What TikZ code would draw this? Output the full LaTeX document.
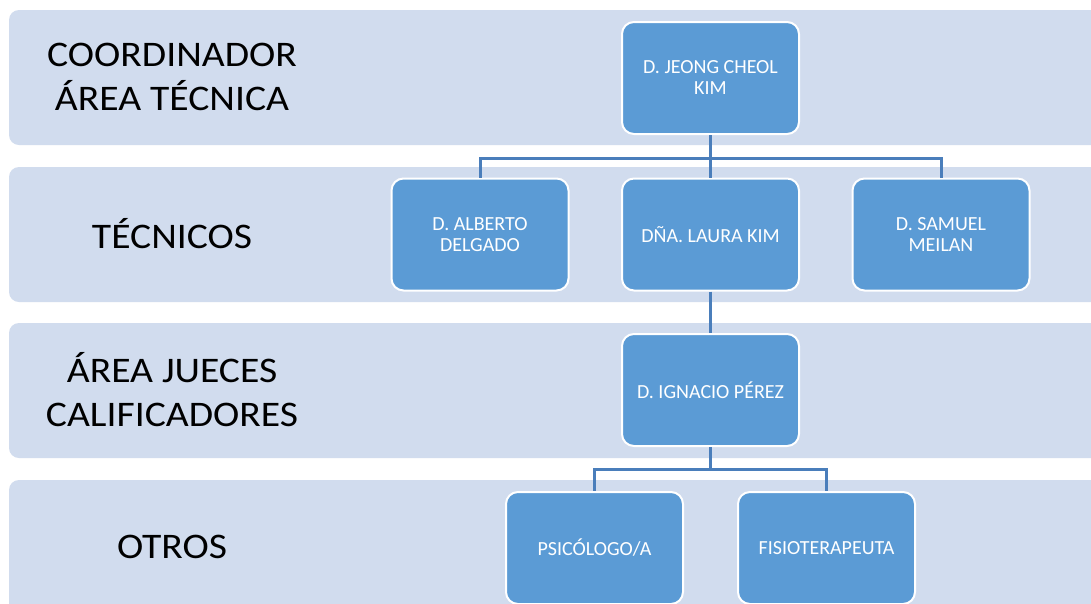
\documentclass[tikz,border=0pt]{standalone}
\usepackage{fontspec}
\setmainfont{Carlito}
\newfontfamily\bandfont[FakeStretch=1.1]{Carlito}
\usetikzlibrary{positioning}
\definecolor{bandblue}{HTML}{D1DCEE}
\definecolor{boxblue}{HTML}{5B9BD5}
\definecolor{linkblue}{HTML}{4A7EBB}
\tikzset{
    band/.style={fill=bandblue, rounded corners=10pt},
    bandlabel/.style={align=center, font=\bandfont\fontsize{36}{44}\selectfont},
    person/.style={rectangle, rounded corners=12pt, draw=white, line width=2pt,
        fill=boxblue, text=white, align=center, minimum width=177pt,
        minimum height=112pt, font=\fontsize{20}{21}\selectfont},
    link/.style={draw=linkblue, line width=3pt}
}

\begin{document}
\begin{tikzpicture}[x=1pt,y=-1pt]
            \useasboundingbox (0,0) rectangle (1091,603);
            \clip (0,0) rectangle (1091,603);
            \fill [white] (0,0) rectangle (1091,603);

            % bands
            \fill [band] (9,10) rectangle (1120,145);
            \fill [band] (9,167) rectangle (1120,302);
            \fill [band] (9,323) rectangle (1120,458);
            \fill [band] (9,480) rectangle (1120,615);

            \node [bandlabel] (lcoord) at (172,77) {COORDINADOR\\ÁREA TÉCNICA};
            \node [bandlabel] (ltec) at (172,234) {TÉCNICOS};
            \node [bandlabel] (ljue) at (172,390) {ÁREA JUECES\\CALIFICADORES};
            \node [bandlabel] (lotr) at (172,547) {OTROS};

            % people
            \node [person] (kim) at (710.5,78) {D. JEONG CHEOL\\KIM};
            \node [person] (alberto) at (480,234.5) {D. ALBERTO\\DELGADO};
            \node [person] (laura) at (710.5,234.5) {DÑA. LAURA KIM};
            \node [person] (samuel) at (941,234.5) {D. SAMUEL\\MEILAN};
            \node [person] (ignacio) at (710.5,390) {D. IGNACIO PÉREZ};
            \node [person] (psico) at (594.5,548) {PSICÓLOGO/A};
            \node [person] (fisio) at (826.5,548) {FISIOTERAPEUTA};

            \coordinate (bus1) at (710.5,158);
            \coordinate (bus2) at (710.5,469);

            \draw [link] (kim) -- (bus1) -| (alberto);
            \draw [link] (bus1) -| (samuel);
            \draw [link] (bus1) -- (laura);
            \draw [link] (laura) -- (ignacio);
            \draw [link] (ignacio) -- (bus2) -| (psico);
            \draw [link] (bus2) -| (fisio);
        \end{tikzpicture}
\end{document}
